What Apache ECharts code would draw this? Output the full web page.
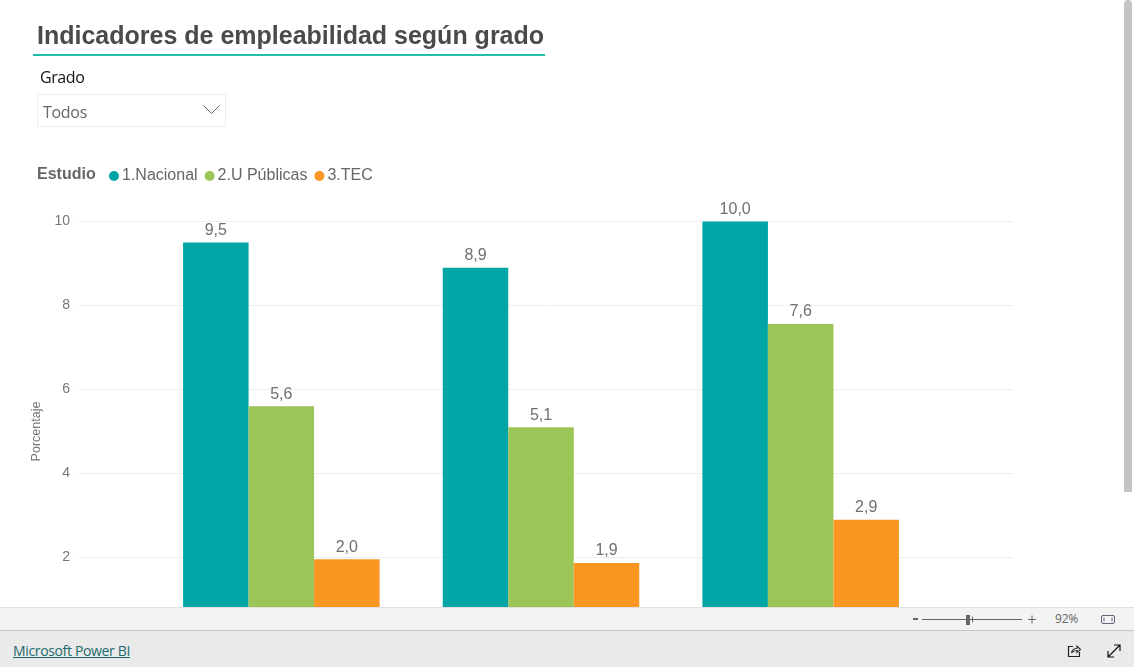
<!DOCTYPE html>
<html><head><meta charset="utf-8">
<script src="https://cdn.jsdelivr.net/npm/echarts@6/dist/echarts.min.js"></script>
<style>
html,body{margin:0;padding:0;width:1134px;height:667px;overflow:hidden;background:#fff}
#c{position:absolute;left:0;top:0;width:1134px;height:667px}
.o{position:absolute;white-space:nowrap}
svg.o{overflow:visible}
</style></head><body>
<div id="c"></div>
<div class="o" style="left:33px;top:54px;width:512px;height:2px;background:#1fbfae"></div>
<div class="o" style="left:40px;top:66px;font:16px/22px 'Open Sans',sans-serif;color:#111;letter-spacing:-.4px">Grado</div>
<div class="o" style="left:37px;top:94px;width:187px;height:31px;border:1px solid #eee"></div>
<div class="o" style="left:43px;top:101px;font:16px/22px 'Open Sans',sans-serif;color:#666;letter-spacing:-.3px">Todos</div>
<svg class="o" style="left:203px;top:105px" width="17" height="10"><path d="M0.5 0.5L8.5 8.5L16.5 0.5" fill="none" stroke="#666" stroke-width="1"/></svg>
<div class="o" style="left:1124px;top:0;width:8px;height:492px;background:#c4c4c4;border-radius:4px 4px 0 0"></div>
<div class="o" style="left:0;top:607px;width:1134px;height:23px;background:#f3f3f3;border-top:1px solid #e0e0e0;box-sizing:border-box"></div>
<div class="o" style="left:0;top:630px;width:1134px;height:37px;background:#eaeaea;border-top:1px solid #c8c8c8;box-sizing:border-box"></div>
<svg class="o" style="left:0;top:607px" width="1134" height="23">
<path d="M913 12h5" stroke="#666" stroke-width="2"/>
<path d="M922 12.500H1022" stroke="#666" stroke-width="1"/>
<rect x="966" y="8" width="4" height="10" fill="#666"/>
<path d="M972.500 9.500v6" stroke="#666"/>
<path d="M1028 12.500h8M1032 8.500v8" stroke="#666"/>
<rect x="1101.500" y="8.500" width="13" height="8" rx="1.500" fill="none" stroke="#667"/>
<path d="M1104 10.500v4M1112 10.500v4" stroke="#667" stroke-width="1"/>
</svg>
<div class="o" style="left:1055px;top:610px;font:12px/18px 'Open Sans',sans-serif;color:#666;letter-spacing:-.2px">92%</div>
<div class="o" style="left:13px;top:641px;font:14px/20px 'Open Sans',sans-serif;color:#1c6a6a;text-decoration:underline;letter-spacing:-.35px">Microsoft Power BI</div>
<svg class="o" style="left:1067px;top:644px" width="60" height="14" fill="none">
<path d="M6 2.500H1.500V12.500H12.500V8" stroke="#222" stroke-width="1.200"/>
<path d="M4.500 9C5 5.500 7.500 4.500 10 4.500V2L13.500 5.500L10 8.500V6.500C8 6.500 6 7 4.500 9Z" stroke="#333" stroke-width="1.100"/>
<path d="M41 13L53 1M47 1h6v6M41 7v6h6" stroke="#111" stroke-width="1.200"/>
</svg>
<script>
const categories = ['1', '2', '3'];
const seriesNames = ['1.Nacional', '2.U Públicas', '3.TEC'];
const nacional = [9.5, 8.9, 10.0];
const uPublicas = [5.6, 5.1, 7.56];
const tec = [1.96, 1.87, 2.9];
const yTicks = [0, 2, 4, 6, 8, 10];
const colors = ['#01A5A6', '#9BC557', '#FB9622'];

const chart = echarts.init(document.getElementById('c'), null, {renderer: 'canvas'});
const font = '"Liberation Sans", Arial, sans-serif';
const mk = (name, data, color) => ({
  name, data, type: 'bar', xAxisIndex: 1, yAxisIndex: 1,
  barWidth: 65.5, barGap: 0,
  itemStyle: {color, borderColor: '#fff', borderWidth: 0},
  label: {show: true, position: 'top', distance: 4, color: '#6f6f6f', fontFamily: font, fontSize: 16,
    formatter: p => p.value.toFixed(1).replace('.', ',')}
});
chart.setOption({
  animation: false,
  title: [
    {text: 'Indicadores de empleabilidad según grado', left: 32, top: 20,
      textStyle: {fontFamily: font, fontSize: 25, fontWeight: 'bold', color: '#4a4a4a'}},
    {text: 'Estudio', left: 32, top: 162,
      textStyle: {fontFamily: font, fontSize: 16, fontWeight: 'bold', color: '#666'}}
  ],
  legend: {left: 104, top: 163, icon: 'circle', itemWidth: 10, itemHeight: 10, itemGap: 7,
    data: seriesNames, textStyle: {fontFamily: font, fontSize: 16, color: '#666', padding: [0, 0, 0, -2]}},
  grid: [
    {left: 78, width: 935, top: 221.500, height: 420},
    {left: 151.500, width: 779, top: 221.500, height: 420}
  ],
  xAxis: [
    {gridIndex: 0, type: 'category', data: categories, show: false},
    {gridIndex: 1, type: 'category', data: categories, show: false}
  ],
  yAxis: [
    {gridIndex: 0, type: 'value', min: yTicks[0], max: yTicks[yTicks.length - 1], interval: 2,
      name: 'Porcentaje', nameLocation: 'middle', nameGap: 33,
      nameTextStyle: {fontFamily: font, fontSize: 12.500, color: '#777'},
      axisLine: {show: false}, axisTick: {show: false},
      axisLabel: {fontFamily: font, fontSize: 14, color: '#777', margin: 8},
      splitLine: {lineStyle: {color: '#eeeeee', width: 1}}},
    {gridIndex: 1, type: 'value', min: yTicks[0], max: yTicks[yTicks.length - 1], interval: 2, show: false}
  ],
  series: [mk(seriesNames[0], nacional, colors[0]), mk(seriesNames[1], uPublicas, colors[1]), mk(seriesNames[2], tec, colors[2])]
});
</script>
</body></html>
